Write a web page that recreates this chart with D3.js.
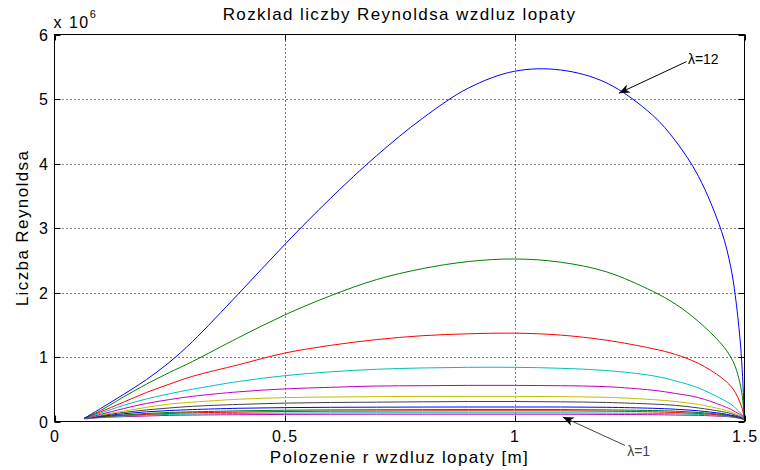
<!DOCTYPE html>
<html><head><meta charset="utf-8">
<script src="https://cdn.jsdelivr.net/npm/d3@7/dist/d3.min.js"></script>
<style>
body{margin:0;background:#fff}
svg{display:block}
text{font-family:"Liberation Sans",Arial,Helvetica,sans-serif;fill:#000}
</style>
</head><body>
<svg id="chart" width="760" height="470"></svg>
<script>
// ---- data (Reynolds number in units of 1e6) ----
const rPos = [0.065,0.1,0.15,0.2,0.25,0.3,0.4,0.5,0.6,0.7,0.8,0.9,1.0,1.1,1.2,1.3,1.35,1.4,1.45,1.47,1.48,1.49,1.495,1.5];
const re12 = [0.05,0.2,0.42,0.65,0.92,1.24,1.98,2.74,3.46,4.12,4.7,5.17,5.43,5.45,5.25,4.75,4.35,3.8,2.95,2.4,1.95,1.3,0.8,0.03];
const re11 = [0.05,0.17,0.38,0.58,0.76,0.93,1.3,1.65,1.95,2.2,2.37,2.48,2.52,2.47,2.32,2.02,1.82,1.55,1.2,1.0,0.85,0.6,0.4,0.03];
const re10 = [0.05,0.15,0.3,0.45,0.58,0.7,0.88,1.06,1.18,1.27,1.33,1.36,1.37,1.34,1.26,1.13,1.04,0.9,0.68,0.55,0.45,0.3,0.2,0.03];
const re9  = [0.05,0.13,0.25,0.35,0.43,0.5,0.62,0.71,0.77,0.81,0.83,0.84,0.84,0.825,0.79,0.71,0.63,0.52,0.35,0.27,0.21,0.14,0.1,0.03];
const re8  = [0.05,0.11,0.2,0.28,0.34,0.39,0.46,0.505,0.53,0.55,0.555,0.56,0.56,0.555,0.54,0.485,0.435,0.37,0.25,0.19,0.15,0.11,0.08,0.03];
const re7  = [0.05,0.1,0.16,0.22,0.27,0.3,0.345,0.37,0.38,0.385,0.39,0.39,0.39,0.385,0.375,0.34,0.31,0.265,0.19,0.15,0.12,0.09,0.07,0.03];
const re6  = [0.05,0.09,0.14,0.18,0.21,0.235,0.265,0.285,0.295,0.3,0.305,0.31,0.31,0.305,0.295,0.27,0.25,0.21,0.155,0.125,0.1,0.08,0.06,0.03];
const re5  = [0.05,0.08,0.12,0.15,0.17,0.185,0.205,0.215,0.22,0.222,0.224,0.225,0.225,0.225,0.22,0.205,0.19,0.165,0.125,0.1,0.085,0.065,0.05,0.03];
const re4  = [0.05,0.075,0.1,0.125,0.14,0.15,0.165,0.175,0.18,0.182,0.184,0.185,0.185,0.185,0.18,0.17,0.16,0.14,0.11,0.09,0.075,0.06,0.045,0.03];
const re3  = [0.05,0.07,0.095,0.11,0.125,0.135,0.145,0.155,0.16,0.162,0.164,0.165,0.165,0.165,0.16,0.15,0.14,0.125,0.1,0.085,0.07,0.055,0.045,0.03];
const re2  = [0.045,0.065,0.085,0.1,0.11,0.115,0.125,0.13,0.133,0.135,0.135,0.135,0.135,0.135,0.13,0.125,0.12,0.11,0.09,0.075,0.065,0.05,0.04,0.03];
const re1  = [0.04,0.06,0.075,0.085,0.095,0.1,0.105,0.11,0.112,0.113,0.113,0.113,0.113,0.113,0.11,0.105,0.1,0.095,0.08,0.07,0.06,0.05,0.04,0.03];
const seriesValues = [re12,re11,re10,re9,re8,re7,re6,re5,re4,re3,re2,re1];
const seriesColors = ["#0000ff","#008000","#ff0000","#00bfbf","#bf00bf","#bfbf00","#404040","#0000ff","#008000","#ff0000","#00bfbf","#bf00bf"];
const xTicks = [0,0.5,1,1.5];
const xTickLabels = ["0","0.5","1","1.5"];
const yTicks = [0,1,2,3,4,5,6];
const yTickLabels = ["0","1","2","3","4","5","6"];
const titleText = "Rozklad liczby Reynoldsa wzdluz lopaty";
const xLabelText = "Polozenie r wzdluz lopaty [m]";
const yLabelText = "Liczba Reynoldsa";
// annotations
const annLabels = ["\u03bb=12","\u03bb=1"];
const annTip = [[1.227,5.09],[1.105,0.07]];
const annTail = [[1.374,5.58],[1.24,-0.37]];
const annText = [[1.377,5.55],[1.245,-0.53]];
const annColors = ["#000","#444"];

// ---- drawing ----
const svg = d3.select("#chart");
const x = d3.scaleLinear().domain([0,1.5]).range([54.5,744.5]);
const y = d3.scaleLinear().domain([0,6]).range([421.5,34.5]);
const L = x.range()[0], R = x.range()[1], T = y.range()[1], B = y.range()[0];

// grid
const grid = svg.append("g").attr("stroke","#000").attr("stroke-width",1).attr("stroke-dasharray","1,3");
xTicks.filter(t=>t>0 && t<1.5).forEach(t=>{
  grid.append("line").attr("x1",Math.round(x(t))+0.5).attr("x2",Math.round(x(t))+0.5).attr("y1",B).attr("y2",T);
});
yTicks.filter(t=>t>0 && t<6).forEach(t=>{
  grid.append("line").attr("y1",Math.round(y(t))+0.5).attr("y2",Math.round(y(t))+0.5).attr("x1",L).attr("x2",R);
});

// lines
const line = d3.line().x((d,i)=>x(rPos[i])).y(d=>y(d)).curve(d3.curveCatmullRom.alpha(0.5));
const lg = svg.append("g").attr("fill","none").attr("stroke-width",1);
seriesValues.slice().reverse().forEach((vals,k)=>{
  const i = seriesValues.length-1-k;
  lg.append("path").attr("d",line(vals)).attr("stroke",seriesColors[i]);
});

// box + ticks
const ax = svg.append("g").attr("stroke","#000").attr("stroke-width",1).attr("fill","none");
ax.append("rect").attr("x",L).attr("y",T).attr("width",R-L).attr("height",B-T);
const tl = 6;
xTicks.forEach(t=>{
  const px = Math.round(x(t))+0.5;
  ax.append("line").attr("x1",px).attr("x2",px).attr("y1",B).attr("y2",B-tl);
  ax.append("line").attr("x1",px).attr("x2",px).attr("y1",T).attr("y2",T+tl);
});
yTicks.forEach(t=>{
  const py = Math.round(y(t))+0.5;
  ax.append("line").attr("y1",py).attr("y2",py).attr("x1",L).attr("x2",L+tl);
  ax.append("line").attr("y1",py).attr("y2",py).attr("x1",R).attr("x2",R-tl);
});

// tick labels
const fs = 16;
xTicks.forEach((t,i)=>{
  svg.append("text").attr("x",x(t)+0.8).attr("y",442).attr("text-anchor","middle").attr("font-size",fs).attr("letter-spacing",1.5).text(xTickLabels[i]);
});
yTicks.forEach((t,i)=>{
  svg.append("text").attr("x",L-5).attr("y",y(t)+6).attr("text-anchor","end").attr("font-size",fs).attr("letter-spacing",1.5).text(yTickLabels[i]);
});
// exponent
const ex = svg.append("text").attr("x",L-1).attr("y",28).attr("font-size",fs).attr("letter-spacing",1.5);
ex.append("tspan").text("x 10");
ex.append("tspan").attr("dy",-10).attr("font-size",11).attr("letter-spacing",0).text("6");

// titles
svg.append("text").attr("x",(L+R)/2).attr("y",20).attr("text-anchor","middle").attr("font-size",17).attr("letter-spacing",1.4).text(titleText);
svg.append("text").attr("x",(L+R)/2).attr("y",463).attr("text-anchor","middle").attr("font-size",17).attr("letter-spacing",1.35).text(xLabelText);
svg.append("text").attr("transform",`translate(28,${(T+B)/2}) rotate(-90)`).attr("text-anchor","middle").attr("font-size",17).attr("letter-spacing",1.4).text(yLabelText);

// annotations
annLabels.forEach((lab,i)=>{
  const tx = x(annTip[i][0]), ty = y(annTip[i][1]);
  const sx = x(annTail[i][0]), sy = y(annTail[i][1]);
  svg.append("line").attr("x1",sx).attr("y1",sy).attr("x2",tx).attr("y2",ty).attr("stroke",annColors[i]).attr("stroke-width",1);
  const ang = Math.atan2(ty-sy, tx-sx);
  const len = 11, hw = 4.5;
  const bx = tx - len*Math.cos(ang), by = ty - len*Math.sin(ang);
  const nx = -Math.sin(ang), ny = Math.cos(ang);
  const ix = tx - 0.7*len*Math.cos(ang), iy = ty - 0.7*len*Math.sin(ang);
  svg.append("path").attr("d",`M${tx},${ty}L${bx+nx*hw},${by+ny*hw}L${ix},${iy}L${bx-nx*hw},${by-ny*hw}Z`).attr("fill","#000");
  svg.append("text").attr("x",x(annText[i][0])).attr("y",y(annText[i][1])).attr("font-size",14).style("fill",annColors[i]).text(lab);
});
</script>
</body></html>
